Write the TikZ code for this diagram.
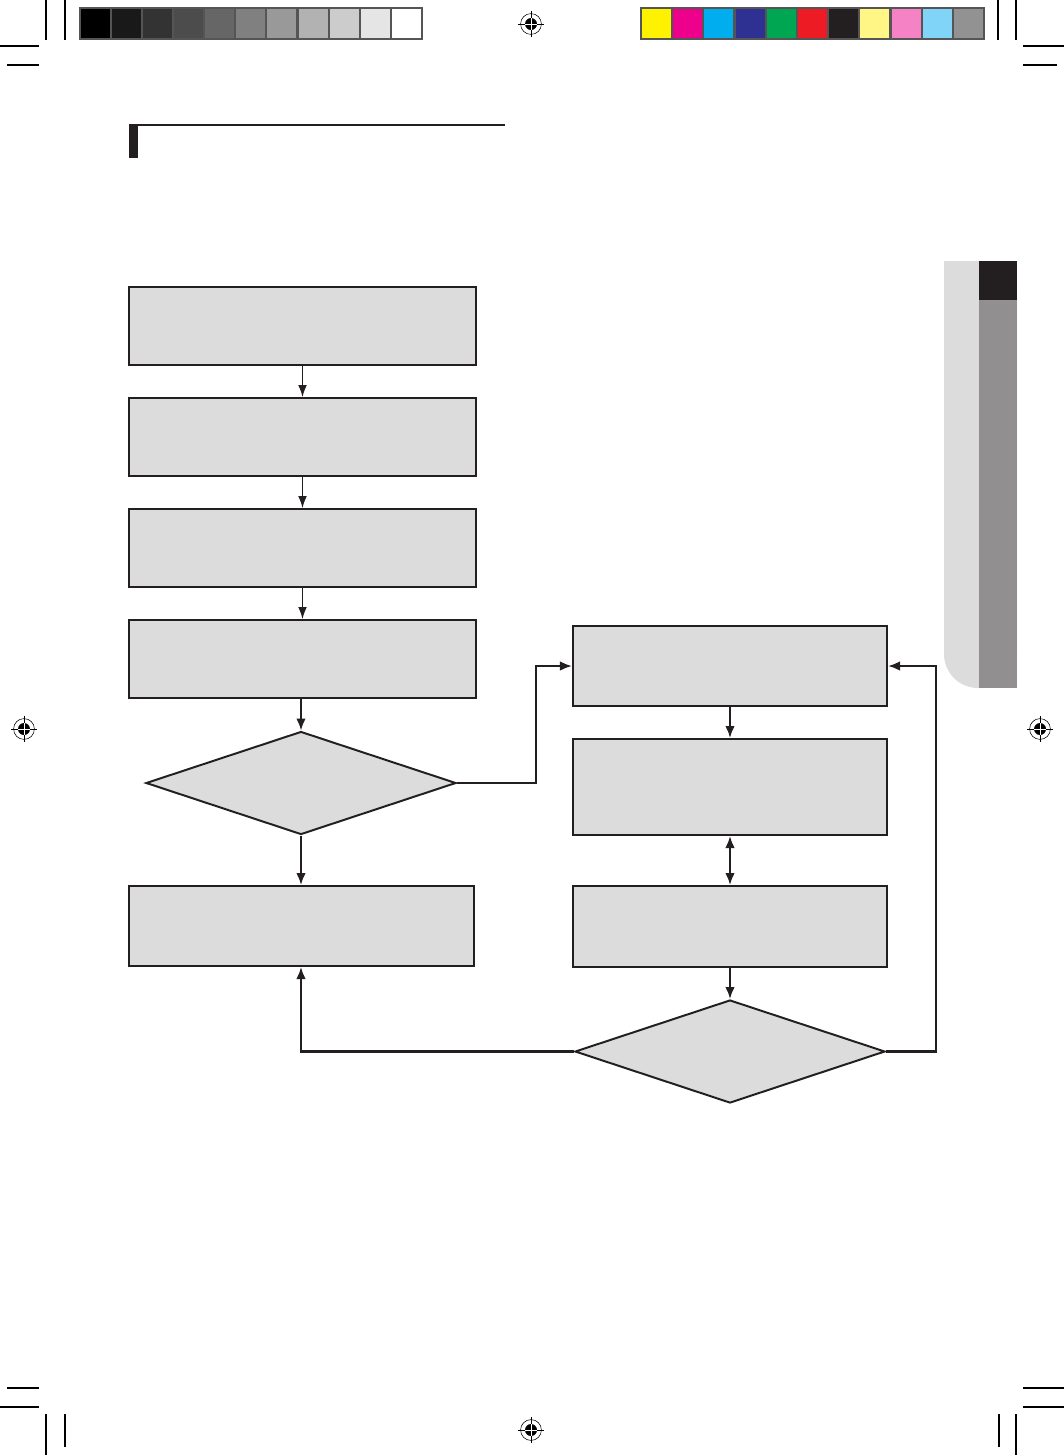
\documentclass[tikz,border=0pt]{standalone}
\usetikzlibrary{positioning,shapes.geometric,arrows.meta}
\definecolor{boxgray}{HTML}{DCDCDC}
\definecolor{tabgray}{HTML}{918F90}
\definecolor{inkblack}{HTML}{231F20}
\definecolor{framegray}{HTML}{555555}

\begin{document}
\begin{tikzpicture}[
  x = 0.025cm, y = -0.025cm,
  procbox/.style = {draw = inkblack, fill = boxgray, line width = 1.4pt,
                    rectangle, minimum width = 8.675cm, minimum height = 1.95cm},
  sidebox/.style = {procbox, minimum width = 7.85cm, minimum height = 2cm},
  testdia/.style = {draw = inkblack, fill = boxgray, line width = 1.4pt,
                    diamond, aspect = 3, inner sep = 0pt,
                    minimum width = 7.75cm, minimum height = 2.575cm},
  thinflow/.style = {draw = inkblack, line width = 0.85pt,
                     -{Latex[length = 0.3cm, width = 0.22cm]}},
  flow/.style = {draw = inkblack, line width = 1.5pt,
                 -{Latex[length = 0.3cm, width = 0.24cm]}},
  twoflow/.style = {draw = inkblack, line width = 1.5pt,
                    {Latex[length = 0.3cm, width = 0.24cm]}-{Latex[length = 0.3cm, width = 0.24cm]}},
  cropline/.style = {draw = black, line width = 0.8pt},
  node distance = 0.775cm
]
\useasboundingbox (0,0) rectangle (1064,1455);

% crop marks
\draw[cropline] (46,0) -- (46,40) (65,0) -- (65,40);
\draw[cropline] (0,46) -- (39,46) (7,65) -- (39,65);
\draw[cropline] (998,0) -- (998,40) (1016,0) -- (1016,40);
\draw[cropline] (1023,46) -- (1064,46) (1023,65) -- (1057,65);
\draw[cropline] (7,1388) -- (39,1388) (0,1407) -- (39,1407);
\draw[cropline] (46,1414) -- (46,1455) (65,1414) -- (65,1447);
\draw[cropline] (1023,1388) -- (1064,1388) (1023,1407) -- (1064,1407);
\draw[cropline] (999,1414) -- (999,1447) (1016,1414) -- (1016,1455);

% registration marks
\foreach \p in {(531,24), (24,729), (1040,729), (531,1430)} {
  \draw[line width = 0.4pt] \p circle[radius = 0.26cm];
  \draw[line width = 0.6pt] \p ++(-13,0) -- ++(26,0) \p ++(0,-13) -- ++(0,26);
  \fill \p circle[radius = 0.15cm];
  \draw[white, line width = 0.4pt] \p ++(-6,0) -- ++(12,0) \p ++(0,-6) -- ++(0,12);
}

% gray scale bar
\fill[framegray] (79,7) rectangle (423,40);
\foreach \g [count = \i from 0] in {100,90,80,70,60,50,40,30,20,10,0}
  \fill[black!\g] (80.5+\i*31.15,9) rectangle (109.5+\i*31.15,38);

% colour bar
\fill[framegray] (640,7) rectangle (985,40);
\foreach \c [count = \i from 0] in {FFF200,EC008C,00AEEF,2E3192,00A651,ED1C24,231F20,FFF685,F482C4,80D4F7,929292} {
  \definecolor{patch}{HTML}{\c}
  \fill[patch] (642+\i*31.2,9) rectangle (671+\i*31.2,38);
}

% section header
\fill[inkblack] (129,124) rectangle (138,158);
\draw[inkblack, line width = 1.6pt] (129,125) -- (505,125);

% side tab
\fill[boxgray, rounded corners = 0.85cm] (944,261) rectangle (1017,688);
\fill[boxgray] (944,261) rectangle (979,300);
\fill[tabgray] (979,261) rectangle (1017,688);
\fill[inkblack] (979,261) rectangle (1017,300);

% left column
\node[procbox] (b1) at (302.5,326) {};
\node[procbox, below = of b1] (b2) {};
\node[procbox, below = of b2] (b3) {};
\node[procbox, below = of b3] (b4) {};
\node[testdia] (d1) at (301,783) {};
\node[procbox, minimum width = 8.625cm, minimum height = 2cm] (b5) at (301.5,926) {};

% right column
\node[sidebox] (r1) at (730,666) {};
\node[sidebox, minimum height = 2.4cm] (r2) at (730,787) {};
\node[sidebox, minimum height = 2.025cm] (r3) at (730,926.5) {};
\node[testdia] (d2) at (730,1051.5) {};

% connectors
\draw[thinflow] (b1) -- (b2);
\draw[thinflow] (b2) -- (b3);
\draw[thinflow] (b3) -- (b4);
\draw[flow] (d1.north |- b4.south) -- (d1.north);
\draw[flow] (d1.south) -- (d1.south |- b5.north);
\draw[flow] (d1.east) -- ++(79,0) |- (r1.west);
\draw[flow] (r1) -- (r2);
\draw[twoflow] (r2) -- (r3);
\draw[flow] (r3) -- (d2);
\draw[flow] (d2.west) -| (d1.south |- b5.south);
\draw[flow] (d2.east) -- ++(50,0) |- (r1.east);
\end{tikzpicture}
\end{document}
